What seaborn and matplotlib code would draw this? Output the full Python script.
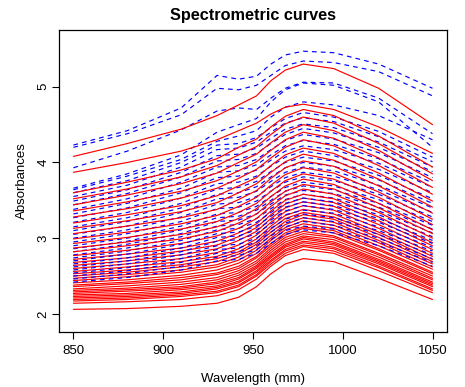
import pandas as pd
import seaborn as sns
import matplotlib
matplotlib.use("Agg")
import matplotlib.pyplot as plt

wavelengths = [850, 880, 910, 930, 942, 952, 960, 968, 978, 995, 1020, 1050]

# low fat samples (solid red)
red_curves = [
    [2.06, 2.07, 2.10, 2.14, 2.22, 2.36, 2.53, 2.66, 2.73, 2.69, 2.47, 2.19],
    [2.14, 2.16, 2.19, 2.24, 2.32, 2.46, 2.63, 2.77, 2.85, 2.80, 2.57, 2.28],
    [2.17, 2.19, 2.23, 2.28, 2.36, 2.50, 2.66, 2.80, 2.89, 2.83, 2.61, 2.31],
    [2.19, 2.21, 2.25, 2.30, 2.38, 2.52, 2.69, 2.83, 2.91, 2.86, 2.63, 2.33],
    [2.21, 2.23, 2.27, 2.33, 2.41, 2.55, 2.71, 2.85, 2.94, 2.88, 2.66, 2.36],
    [2.23, 2.25, 2.29, 2.35, 2.43, 2.57, 2.74, 2.88, 2.96, 2.91, 2.68, 2.38],
    [2.25, 2.27, 2.32, 2.37, 2.46, 2.60, 2.76, 2.90, 2.99, 2.93, 2.70, 2.40],
    [2.27, 2.30, 2.34, 2.40, 2.48, 2.62, 2.78, 2.92, 3.01, 2.95, 2.72, 2.42],
    [2.29, 2.32, 2.36, 2.42, 2.51, 2.64, 2.81, 2.95, 3.03, 2.98, 2.75, 2.45],
    [2.31, 2.34, 2.39, 2.45, 2.54, 2.67, 2.84, 2.98, 3.06, 3.01, 2.78, 2.47],
    [2.33, 2.37, 2.42, 2.48, 2.57, 2.70, 2.87, 3.01, 3.09, 3.03, 2.80, 2.50],
    [2.36, 2.40, 2.45, 2.52, 2.60, 2.74, 2.90, 3.04, 3.13, 3.07, 2.84, 2.53],
    [2.38, 2.42, 2.48, 2.54, 2.63, 2.76, 2.93, 3.07, 3.15, 3.10, 2.86, 2.55],
    [2.41, 2.45, 2.51, 2.58, 2.67, 2.80, 2.97, 3.11, 3.19, 3.13, 2.90, 2.59],
    [2.44, 2.49, 2.55, 2.62, 2.71, 2.84, 3.00, 3.14, 3.23, 3.17, 2.94, 2.62],
    [2.47, 2.52, 2.58, 2.65, 2.75, 2.88, 3.04, 3.18, 3.27, 3.21, 2.97, 2.66],
    [2.50, 2.55, 2.62, 2.69, 2.79, 2.92, 3.08, 3.22, 3.31, 3.25, 3.01, 2.69],
    [2.53, 2.58, 2.65, 2.73, 2.82, 2.95, 3.12, 3.26, 3.34, 3.28, 3.05, 2.72],
    [2.56, 2.62, 2.69, 2.76, 2.86, 2.99, 3.16, 3.30, 3.38, 3.32, 3.08, 2.76],
    [2.60, 2.66, 2.73, 2.81, 2.91, 3.04, 3.21, 3.35, 3.43, 3.37, 3.13, 2.80],
    [2.64, 2.70, 2.78, 2.86, 2.97, 3.09, 3.26, 3.40, 3.48, 3.42, 3.18, 2.85],
    [2.68, 2.74, 2.83, 2.91, 3.02, 3.14, 3.31, 3.45, 3.53, 3.47, 3.23, 2.90],
    [2.72, 2.79, 2.87, 2.96, 3.07, 3.19, 3.36, 3.50, 3.58, 3.52, 3.28, 2.94],
    [2.77, 2.84, 2.93, 3.03, 3.13, 3.26, 3.42, 3.56, 3.65, 3.58, 3.34, 3.00],
    [2.82, 2.90, 2.99, 3.09, 3.20, 3.32, 3.48, 3.62, 3.71, 3.65, 3.40, 3.06],
    [2.87, 2.95, 3.05, 3.15, 3.26, 3.39, 3.55, 3.69, 3.78, 3.71, 3.46, 3.11],
    [2.93, 3.01, 3.12, 3.22, 3.34, 3.46, 3.62, 3.76, 3.85, 3.78, 3.54, 3.18],
    [2.99, 3.08, 3.19, 3.30, 3.42, 3.54, 3.70, 3.84, 3.93, 3.86, 3.61, 3.25],
    [3.06, 3.16, 3.27, 3.38, 3.51, 3.63, 3.79, 3.93, 4.02, 3.95, 3.69, 3.33],
    [3.13, 3.23, 3.35, 3.47, 3.60, 3.72, 3.87, 4.01, 4.11, 4.03, 3.78, 3.41],
    [3.20, 3.31, 3.43, 3.56, 3.69, 3.80, 3.96, 4.10, 4.19, 4.12, 3.86, 3.49],
    [3.28, 3.39, 3.53, 3.66, 3.79, 3.91, 4.06, 4.20, 4.30, 4.22, 3.96, 3.58],
    [3.36, 3.48, 3.62, 3.76, 3.89, 4.01, 4.16, 4.30, 4.40, 4.32, 4.06, 3.67],
    [3.44, 3.57, 3.72, 3.86, 4.00, 4.11, 4.26, 4.40, 4.50, 4.42, 4.16, 3.76],
    [3.52, 3.65, 3.81, 3.96, 4.10, 4.21, 4.37, 4.51, 4.60, 4.52, 4.25, 3.85],
    [3.60, 3.74, 3.90, 4.05, 4.20, 4.31, 4.47, 4.61, 4.70, 4.62, 4.35, 3.94],
    [3.87, 4.00, 4.15, 4.30, 4.42, 4.52, 4.64, 4.73, 4.77, 4.70, 4.47, 4.12],
    [4.08, 4.25, 4.44, 4.62, 4.76, 4.88, 5.08, 5.22, 5.30, 5.24, 4.98, 4.50],
]

# high fat samples (dashed blue)
blue_curves = [
    [4.23, 4.42, 4.72, 5.15, 5.10, 5.14, 5.30, 5.42, 5.47, 5.45, 5.30, 4.98],
    [4.20, 4.38, 4.63, 4.98, 4.96, 5.02, 5.15, 5.28, 5.34, 5.32, 5.20, 4.88],
    [3.93, 4.15, 4.43, 4.68, 4.72, 4.70, 4.85, 4.98, 5.06, 5.05, 4.85, 4.38],
    [3.66, 3.85, 4.10, 4.40, 4.50, 4.58, 4.80, 4.96, 5.05, 5.02, 4.80, 4.20],
    [3.64, 3.82, 4.04, 4.28, 4.35, 4.42, 4.60, 4.73, 4.80, 4.76, 4.62, 4.30],
    [3.60, 3.76, 4.00, 4.23, 4.25, 4.33, 4.46, 4.58, 4.66, 4.60, 4.41, 4.07],
    [3.55, 3.70, 3.94, 4.17, 4.19, 4.27, 4.40, 4.52, 4.59, 4.54, 4.34, 4.01],
    [3.49, 3.64, 3.87, 4.09, 4.11, 4.19, 4.32, 4.44, 4.51, 4.46, 4.27, 3.94],
    [3.44, 3.59, 3.81, 4.02, 4.04, 4.12, 4.25, 4.37, 4.45, 4.39, 4.20, 3.88],
    [3.38, 3.52, 3.74, 3.94, 3.96, 4.04, 4.17, 4.29, 4.37, 4.31, 4.13, 3.80],
    [3.32, 3.46, 3.66, 3.87, 3.89, 3.97, 4.10, 4.22, 4.29, 4.24, 4.05, 3.73],
    [3.27, 3.40, 3.60, 3.80, 3.82, 3.90, 4.03, 4.15, 4.22, 4.17, 3.99, 3.67],
    [3.21, 3.34, 3.53, 3.72, 3.74, 3.82, 3.95, 4.07, 4.15, 4.09, 3.91, 3.60],
    [3.15, 3.27, 3.46, 3.65, 3.67, 3.75, 3.88, 4.00, 4.07, 4.02, 3.83, 3.52],
    [3.10, 3.22, 3.40, 3.58, 3.60, 3.68, 3.81, 3.93, 4.00, 3.95, 3.77, 3.46],
    [3.05, 3.16, 3.34, 3.52, 3.54, 3.62, 3.75, 3.87, 3.94, 3.89, 3.70, 3.40],
    [3.00, 3.11, 3.28, 3.45, 3.47, 3.55, 3.68, 3.80, 3.87, 3.82, 3.64, 3.34],
    [2.95, 3.06, 3.22, 3.39, 3.41, 3.49, 3.62, 3.74, 3.81, 3.76, 3.58, 3.28],
    [2.90, 3.00, 3.16, 3.32, 3.34, 3.42, 3.55, 3.67, 3.74, 3.69, 3.51, 3.22],
    [2.86, 2.96, 3.11, 3.27, 3.29, 3.37, 3.50, 3.62, 3.69, 3.64, 3.46, 3.17],
    [2.82, 2.92, 3.06, 3.22, 3.24, 3.32, 3.45, 3.57, 3.63, 3.59, 3.41, 3.12],
    [2.78, 2.87, 3.02, 3.16, 3.18, 3.26, 3.39, 3.51, 3.58, 3.53, 3.36, 3.07],
    [2.74, 2.83, 2.97, 3.11, 3.13, 3.21, 3.34, 3.46, 3.53, 3.48, 3.31, 3.02],
    [2.70, 2.79, 2.92, 3.06, 3.08, 3.16, 3.29, 3.41, 3.48, 3.43, 3.26, 2.97],
    [2.66, 2.74, 2.87, 3.01, 3.03, 3.11, 3.24, 3.36, 3.43, 3.38, 3.21, 2.93],
    [2.62, 2.70, 2.82, 2.96, 2.98, 3.06, 3.19, 3.31, 3.37, 3.33, 3.15, 2.88],
    [2.58, 2.66, 2.78, 2.90, 2.92, 3.00, 3.13, 3.25, 3.32, 3.27, 3.10, 2.83],
    [2.54, 2.61, 2.73, 2.85, 2.87, 2.95, 3.08, 3.20, 3.27, 3.22, 3.05, 2.78],
    [2.50, 2.57, 2.68, 2.80, 2.82, 2.90, 3.03, 3.15, 3.22, 3.17, 3.00, 2.73],
    [2.46, 2.53, 2.63, 2.75, 2.77, 2.85, 2.98, 3.10, 3.16, 3.12, 2.95, 2.68],
    [2.42, 2.48, 2.58, 2.70, 2.72, 2.80, 2.93, 3.05, 3.11, 3.07, 2.90, 2.63],
]

x_ticks = [850, 900, 950, 1000, 1050]
y_ticks = [2, 3, 4, 5]

sns.set_style("ticks")
plt.rcParams['font.family'] = ['Liberation Sans', 'DejaVu Sans']
plt.rcParams['text.color'] = 'black'
plt.rcParams['axes.labelcolor'] = 'black'
plt.rcParams['xtick.color'] = 'black'
plt.rcParams['ytick.color'] = 'black'

# long table, curves interleaved so red and blue overlap like matplot
rows = []
order = []
n = max(len(red_curves), len(blue_curves))
for i in range(n):
    if i < len(red_curves):
        order.append(('red', i))
    if i < len(blue_curves):
        order.append(('blue', i))
for k, (grp, i) in enumerate(order):
    vals = red_curves[i] if grp == 'red' else blue_curves[i]
    for w, v in zip(wavelengths, vals):
        rows.append({'curve': k, 'group': grp, 'wavelength': w, 'absorbance': v})
df = pd.DataFrame(rows)

fig = plt.figure(figsize=(4.65, 3.87), dpi=100)
ax = fig.add_axes([0.127, 0.142, 0.834, 0.7805])

for k, (grp, i) in enumerate(order):
    sub = df[df['curve'] == k]
    if grp == 'red':
        sns.lineplot(data=sub, x='wavelength', y='absorbance', color='#ff0000',
                     linewidth=0.85, ax=ax, estimator=None, sort=False)
    else:
        sns.lineplot(data=sub, x='wavelength', y='absorbance', color='#0000ff',
                     linewidth=0.85, ax=ax, estimator=None, sort=False)
        ax.lines[-1].set_dashes((4, 3.5))

ax.set_xlim(842, 1058)
ax.set_ylim(1.76, 5.75)
ax.set_xticks(x_ticks)
ax.set_yticks(y_ticks)
ax.set_yticklabels([str(t) for t in y_ticks], rotation=90, va='center')
ax.tick_params(axis='both', labelsize=9.5, length=5, width=0.8, color='black',
               labelcolor='black')
ax.tick_params(axis='x', pad=4)
ax.tick_params(axis='y', pad=2)
for sp in ax.spines.values():
    sp.set_visible(True)
    sp.set_linewidth(0.9)
    sp.set_color('black')

ax.set_xlabel('Wavelength (mm)', fontsize=9.5, labelpad=12, color='black')
ax.set_ylabel('Absorbances', fontsize=9.5, labelpad=7, color='black')
ax.set_title('Spectrometric curves', fontsize=11.7, fontweight='bold', pad=7,
             color='black')

fig.savefig('out.png', dpi=100, facecolor='white')
